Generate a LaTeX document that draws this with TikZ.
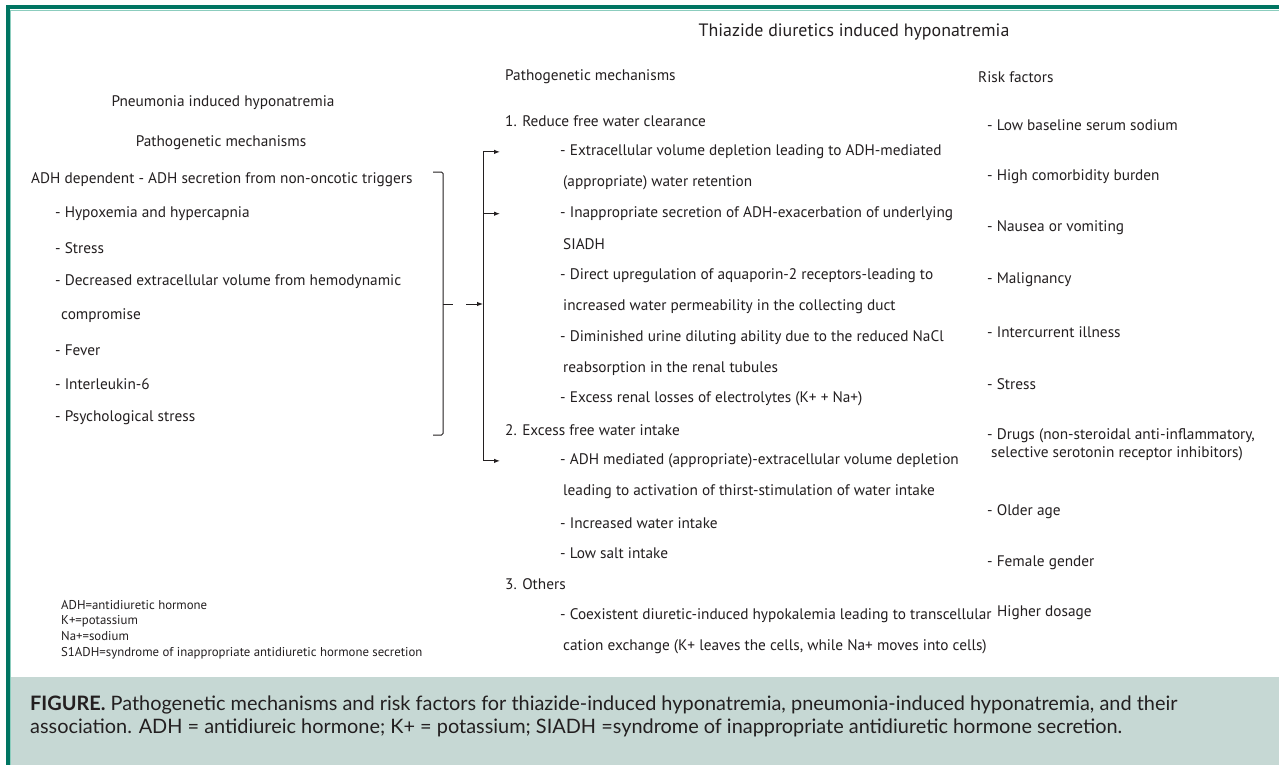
\documentclass[tikz,border=0pt]{standalone}
\usepackage{fontspec}
\setmainfont{PT Sans}
\newfontfamily\capfont{Lato}
\usetikzlibrary{arrows.meta}

\definecolor{frameteal}{RGB}{0,117,98}
\definecolor{framemint}{RGB}{140,205,190}
\definecolor{capband}{RGB}{198,216,212}
\definecolor{ink}{RGB}{35,31,32}

\tikzset{
  txt/.style={anchor=west, inner sep=0pt, text=ink, font=\fontsize{15.3}{18}\selectfont},
  head/.style={txt, anchor=center},
  legendtxt/.style={txt, align=left, font=\fontsize{12.8}{15.7}\selectfont},
  brace/.style={draw=ink, line width=1pt, rounded corners=1.5pt},
  feed/.style={draw=ink, line width=1pt, -{Latex[length=6pt,width=4.5pt]}}
}

\begin{document}
\begin{tikzpicture}[x=1pt,y=-1pt]
   \useasboundingbox (0,0) rectangle (1279,765);
   % frame and caption band
   \fill[white] (0,0) rectangle (1279,765);
   \fill[capband] (10,677) rectangle (1279,765);
   \draw[framemint, line width=1pt] (10.5,765) -- (10.5,10.5) -- (1279,10.5);
   \draw[frameteal, line width=4pt] (7.5,765) -- (7.5,7.5) -- (1279,7.5);

   % pneumonia side
   \node[head] (pneu)   at (223,103) {Pneumonia induced hyponatremia};
   \node[head] (pmechL) at (221,143) {Pathogenetic mechanisms};
   \node[txt] (adh)     at (31,180)  {ADH dependent - ADH secretion from non-oncotic triggers};
   \node[txt] (hypox)   at (55,214)  {- Hypoxemia and hypercapnia};
   \node[txt] (stressL) at (55,248)  {- Stress};
   \node[txt] (decvol)  at (55,282)  {- Decreased extracellular volume from hemodynamic};
   \node[txt] (comprom) at (61,316)  {compromise};
   \node[txt] (fever)   at (55,350)  {- Fever};
   \node[txt] (il6)     at (55,384)  {- Interleukin-6};
   \node[txt] (psych)   at (55,418)  {- Psychological stress};

   % thiazide side
   \node[head] (title) at (854,32) {\fontsize{17.9}{21}\selectfont Thiazide diuretics induced hyponatremia};
   \node[txt] (pmech) at (505,77) {Pathogenetic mechanisms};
   \node[txt] (risk)  at (978,77) {Risk factors};

   \node[txt] (red)   at (505,121.0) {1. Reduce free water clearance};
   \node[txt] (ecv)   at (560,151.9) {- Extracellular volume depletion leading to ADH-mediated};
   \node[txt] (ecvb)  at (563,182.8) {(appropriate) water retention};
   \node[txt] (inapp) at (560,213.7) {- Inappropriate secretion of ADH-exacerbation of underlying};
   \node[txt] (inappb) at (563,244.6) {SIADH};
   \node[txt] (aqp)   at (560,275.5) {- Direct upregulation of aquaporin-2 receptors-leading to};
   \node[txt] (aqpb)  at (563,306.4) {increased water permeability in the collecting duct};
   \node[txt] (nacl)  at (560,337.3) {- Diminished urine diluting ability due to the reduced NaCl};
   \node[txt] (naclb) at (563,368.2) {reabsorption in the renal tubules};
   \node[txt] (lyte)  at (560,399.1) {- Excess renal losses of electrolytes (K+ + Na+)};
   \node[txt] (exc)   at (505,430.0) {2. Excess free water intake};
   \node[txt] (adhm)  at (560,460.9) {- ADH mediated (appropriate)-extracellular volume depletion};
   \node[txt] (adhmb) at (563,491.8) {leading to activation of thirst-stimulation of water intake};
   \node[txt] (incw)  at (560,522.7) {- Increased water intake};
   \node[txt] (lows)  at (560,553.6) {- Low salt intake};
   \node[txt] (oth)   at (505,584.5) {3. Others};
   \node[txt] (coex)  at (560,615.4) {- Coexistent diuretic-induced hypokalemia leading to transcellular};
   \node[txt] (coexb) at (563,646.3) {cation exchange (K+ leaves the cells, while Na+ moves into cells)};

   % risk factors
   \node[txt] (lowna)   at (987,125) {- Low baseline serum sodium};
   \node[txt] (comorb)  at (987,177) {- High comorbidity burden};
   \node[txt] (nausea)  at (987,228) {- Nausea or vomiting};
   \node[txt] (malig)   at (987,280) {- Malignancy};
   \node[txt] (interc)  at (987,332) {- Intercurrent illness};
   \node[txt] (stressR) at (987,384) {- Stress};
   \node[txt, align=left] (drugs) at (987,445) {- Drugs (non-steroidal anti-inflammatory,\\\hspace{4pt}selective serotonin receptor inhibitors)};
   \node[txt] (older)   at (987,512) {- Older age};
   \node[txt] (female)  at (987,563) {- Female gender};
   \node[txt] (dosage)  at (997,613) {Higher dosage};

   % abbreviations
   \node[legendtxt] (legend) at (61,629.5) {ADH=antidiuretic hormone\\K+=potassium\\Na+=sodium\\S1ADH=syndrome of inappropriate antidiuretic hormone secretion};

   % bracket and arrows
   \coordinate (trunk) at (483,0);
   \coordinate (tipx)  at (500,0);
   \coordinate (tick)  at (453,304);
   \coordinate (inarr) at (466,304);
   \draw[brace] (433,172) -- (443,172) -- (443,435) -- (433,435);
   \draw[draw=ink, line width=1pt] (443,304) -- (tick);
   \draw[feed] (inarr) -- (trunk |- inarr);
   \draw[draw=ink, line width=1pt] (trunk |- ecv.west) -- (trunk |- adhm.west);
   \draw[feed] (trunk |- ecv.west) -- (tipx |- ecv.west);
   \draw[feed] (trunk |- inapp.west) -- (tipx |- inapp.west);
   \draw[feed] (trunk |- adhm.west) -- (tipx |- adhm.west);

   % caption
   \node[anchor=west, inner sep=0pt, align=left, text=ink, font=\capfont\fontsize{19.9}{23}\selectfont] (caption) at (30,716)
     {\textbf{FIGURE.} Pathogenetic mechanisms and risk factors for thiazide-induced hyponatremia, pneumonia-induced hyponatremia, and their\\
      association. ADH = antidiureic hormone; K+ = potassium; SIADH =syndrome of inappropriate antidiuretic hormone secretion.};
\end{tikzpicture}
\end{document}
